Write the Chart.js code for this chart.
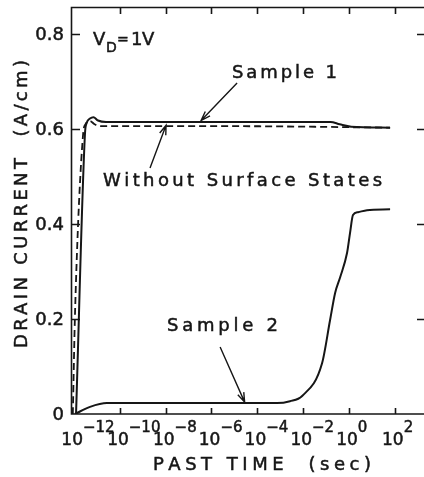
<!DOCTYPE html>
<html>
<head>
<meta charset="utf-8">
<script src="https://cdn.jsdelivr.net/npm/chart.js@4.4.1/dist/chart.umd.min.js"></script>
<style>
  html, body { margin: 0; padding: 0; background: #fff; overflow: hidden; }
  canvas { display: block; }
</style>
</head>
<body>
<canvas id="chart" width="424" height="477"></canvas>
<script>
// time is kept as log10(sec), current in A/cm
const sample1LogT = [-11.91, -11.52, -11.45, -11.3, -11.15, -10.95, -10.6, -5, -0.8, -0.4, 0.1, 1.8];
const sample1Current = [0, 0.59, 0.612, 0.622, 0.625, 0.618, 0.615, 0.615, 0.615, 0.61, 0.605, 0.603];

const noSurfaceLogT = [-12.05, -11.95, -11.6, -11.5, -11.3, -11.1, -10.85, -5, 1.8];
const noSurfaceCurrent = [0, 0.22, 0.59, 0.61, 0.617, 0.61, 0.606, 0.606, 0.603];

const sample2LogT = [-11.96, -11.3, -10.56, -3.14, -2.57, -2.04, -1.17, -0.82, -0.6, -0.38, -0.08, 0.05, 0.18, 0.4, 0.79, 1.8];
const sample2Current = [0, 0.015, 0.023, 0.023, 0.027, 0.038, 0.107, 0.198, 0.255, 0.288, 0.339, 0.381, 0.419, 0.425, 0.429, 0.431];

const xTickExponents = [-12, -10, -8, -6, -4, -2, 0, 2];
const yTickValues = [0, 0.2, 0.4, 0.6, 0.8];
const yTickLabels = ['0', '0.2', '0.4', '0.6', '0.8'];

const INK = '#161616';
const FONT = '"DejaVu Sans", sans-serif';

function toPoints(logT, vals) {
    return logT.map((e, i) => ({ x: Math.pow(10, e), y: vals[i] }));
}

// slightly heavier text, like the pen lettering of the original
function ink(ctx, s, x, y) {
    ctx.fillText(s, x, y);
    ctx.strokeText(s, x, y);
}

// text with stretched letter spacing so it spans a given width
function spacedText(ctx, text, x, y, width) {
    const chars = [...text];
    const natural = chars.reduce((s, c) => s + ctx.measureText(c).width, 0);
    const gap = chars.length > 1 ? (width - natural) / (chars.length - 1) : 0;
    let cx = x;
    chars.forEach(c => {
        ink(ctx, c, cx, y);
        cx += ctx.measureText(c).width + gap;
    });
}

function arrow(ctx, x0, y0, x1, y1) {
    ctx.beginPath();
    ctx.moveTo(x0, y0);
    ctx.lineTo(x1, y1);
    const a = Math.atan2(y1 - y0, x1 - x0);
    const len = 10, spread = 0.33;
    ctx.moveTo(x1 - len * Math.cos(a - spread), y1 - len * Math.sin(a - spread));
    ctx.lineTo(x1, y1);
    ctx.lineTo(x1 - len * Math.cos(a + spread), y1 - len * Math.sin(a + spread));
    ctx.stroke();
}

// labels placed in data coordinates (log10 t, current)
const labels = [
    { text: 'Sample 1', logT: -5.10, value: 0.707, width: 105 },
    { text: 'Without Surface States', logT: -10.73, value: 0.48, width: 279 },
    { text: 'Sample 2', logT: -7.94, value: 0.174, width: 111 }
];
const arrows = [
    { from: [-4.88, 0.697], to: [-6.45, 0.618] },
    { from: [-8.68, 0.518], to: [-7.98, 0.608] },
    { from: [-5.62, 0.141], to: [-4.55, 0.025] }
];

const framePlugin = {
    id: 'frame',
    afterDraw(chart) {
        const ctx = chart.ctx;
        const xs = chart.scales.x, ys = chart.scales.y;
        const a = chart.chartArea;
        const px = e => xs.getPixelForValue(Math.pow(10, e));
        const py = v => ys.getPixelForValue(v);
        ctx.save();
        ctx.strokeStyle = INK;
        ctx.fillStyle = INK;
        ctx.lineWidth = 1.6;

        // frame: left, bottom, top (right edge falls outside the picture)
        ctx.beginPath();
        ctx.moveTo(a.right + 2, a.top + 0.5);
        ctx.lineTo(a.left + 0.5, a.top + 0.5);
        ctx.lineTo(a.left + 0.5, a.bottom);
        ctx.lineTo(a.right + 2, a.bottom);
        ctx.stroke();

        // inward ticks
        ctx.beginPath();
        yTickValues.forEach(v => {
            const y = Math.round(py(v)) + 0.5;
            if (v > 0) {
                ctx.moveTo(a.left, y); ctx.lineTo(a.left + 9, y);
                ctx.moveTo(a.right, y); ctx.lineTo(a.right - 7, y);
            }
        });
        xTickExponents.forEach(e => {
            if (e === -12) return;
            const x = Math.round(px(e)) + 0.5;
            ctx.moveTo(x, a.bottom); ctx.lineTo(x, a.bottom - 6);
            ctx.moveTo(x, a.top); ctx.lineTo(x, a.top + 7);
        });
        ctx.stroke();

        ctx.lineWidth = 0.5;

        // y tick labels
        ctx.font = '18px ' + FONT;
        ctx.textAlign = 'right';
        ctx.textBaseline = 'middle';
        yTickValues.forEach((v, i) => ink(ctx, yTickLabels[i], a.left - 7, py(v) + 1));

        // x tick labels 10^n
        ctx.textBaseline = 'alphabetic';
        xTickExponents.forEach(e => {
            const x = px(e);
            ctx.font = '17px ' + FONT;
            ctx.textAlign = 'right';
            ink(ctx, '10', x + 9, a.bottom + 31);
            ctx.font = '15px ' + FONT;
            ctx.textAlign = 'left';
            ink(ctx, e < 0 ? '\u2212' + Math.abs(e) : String(e), x + 9, a.bottom + 18);
        });

        // axis titles
        ctx.font = '18px ' + FONT;
        ctx.textAlign = 'left';
        spacedText(ctx, 'PAST TIME  (sec)', 153, 470, 218);
        ctx.save();
        ctx.translate(27, 348);
        ctx.rotate(-Math.PI / 2);
        spacedText(ctx, 'DRAIN CURRENT  (A/cm)', 0, 0, 288);
        ctx.restore();

        // V_D = 1 V
        const vx = px(-11.17), vy = py(0.777);
        ctx.font = '18px ' + FONT;
        ink(ctx, 'V', vx, vy);
        ctx.font = '14px ' + FONT;
        ink(ctx, 'D', vx + 13, vy + 7);
        ink(ctx, '=', vx + 24, vy - 1);
        ctx.font = '18px ' + FONT;
        ink(ctx, '1', vx + 38, vy);
        ink(ctx, 'V', vx + 49, vy);

        // curve labels and arrows
        labels.forEach(l => spacedText(ctx, l.text, px(l.logT), py(l.value), l.width));
        ctx.lineWidth = 1.4;
        arrows.forEach(r => arrow(ctx, px(r.from[0]), py(r.from[1]), px(r.to[0]), py(r.to[1])));
        ctx.restore();
    }
};

new Chart(document.getElementById('chart'), {
    type: 'line',
    data: {
        datasets: [
            {
                label: 'Sample 1',
                data: toPoints(sample1LogT, sample1Current),
                borderColor: INK,
                borderWidth: 2,
                pointRadius: 0,
                cubicInterpolationMode: 'monotone'
            },
            {
                label: 'Without Surface States',
                data: toPoints(noSurfaceLogT, noSurfaceCurrent),
                borderColor: INK,
                borderWidth: 1.8,
                borderDash: [7, 4],
                pointRadius: 0,
                cubicInterpolationMode: 'monotone'
            },
            {
                label: 'Sample 2',
                data: toPoints(sample2LogT, sample2Current),
                borderColor: INK,
                borderWidth: 2,
                pointRadius: 0,
                cubicInterpolationMode: 'monotone'
            }
        ]
    },
    options: {
        responsive: false,
        animation: false,
        devicePixelRatio: 1,
        layout: { padding: { left: 71, top: 7, right: 0, bottom: 63 } },
        plugins: { legend: { display: false }, tooltip: { enabled: false } },
        scales: {
            x: { type: 'logarithmic', min: Math.pow(10, -12.13), max: Math.pow(10, 3.28), display: false },
            y: { type: 'linear', min: 0, max: 0.857, display: false }
        }
    },
    plugins: [framePlugin]
});
</script>
</body>
</html>
